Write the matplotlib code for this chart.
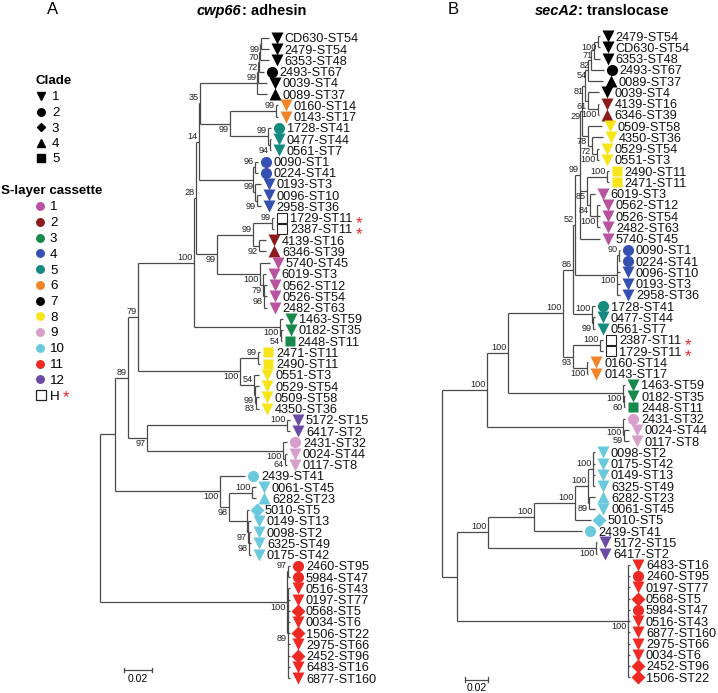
import matplotlib
matplotlib.use('Agg')
import matplotlib.pyplot as plt
from matplotlib.transforms import offset_copy

plt.rcParams['font.family'] = ['Liberation Sans', 'DejaVu Sans']

# ------------------------------------------------------------------ data
CLADE = {
    'CD630-ST54': 1, '2479-ST54': 1, '6353-ST48': 1, '2493-ST67': 2, '0039-ST4': 1, '0089-ST37': 4,
    '0160-ST14': 1, '0143-ST17': 1, '1728-ST41': 2, '0477-ST44': 1, '0561-ST7': 1,
    '0090-ST1': 2, '0224-ST41': 2, '0193-ST3': 1, '0096-ST10': 1, '2958-ST36': 1,
    '1729-ST11': 5, '2387-ST11': 5, '4139-ST16': 1, '6346-ST39': 4,
    '5740-ST45': 1, '6019-ST3': 1, '0562-ST12': 1, '0526-ST54': 1, '2482-ST63': 1,
    '1463-ST59': 1, '0182-ST35': 1, '2448-ST11': 5,
    '2471-ST11': 5, '2490-ST11': 5, '0551-ST3': 1, '0529-ST54': 1, '0509-ST58': 1, '4350-ST36': 1,
    '5172-ST15': 1, '6417-ST2': 1, '2431-ST32': 2, '0024-ST44': 1, '0117-ST8': 1,
    '2439-ST41': 2, '0061-ST45': 1, '6282-ST23': 4, '5010-ST5': 3, '0149-ST13': 1,
    '0098-ST2': 1, '6325-ST49': 1, '0175-ST42': 1,
    '2460-ST95': 2, '5984-ST47': 2, '0516-ST43': 1, '0197-ST77': 1, '0568-ST5': 3,
    '0034-ST6': 1, '1506-ST22': 3, '2975-ST66': 1, '2452-ST96': 3, '6483-ST16': 1,
    '6877-ST160': 1,
}

CASSETTE_GROUPS = {
    '7': ['CD630-ST54', '2479-ST54', '6353-ST48', '2493-ST67', '0039-ST4', '0089-ST37'],
    '6': ['0160-ST14', '0143-ST17'],
    '5': ['1728-ST41', '0477-ST44', '0561-ST7'],
    '4': ['0090-ST1', '0224-ST41', '0193-ST3', '0096-ST10', '2958-ST36'],
    'H': ['1729-ST11', '2387-ST11'],
    '2': ['4139-ST16', '6346-ST39'],
    '1': ['5740-ST45', '6019-ST3', '0562-ST12', '0526-ST54', '2482-ST63'],
    '3': ['1463-ST59', '0182-ST35', '2448-ST11'],
    '8': ['2471-ST11', '2490-ST11', '0551-ST3', '0529-ST54', '0509-ST58', '4350-ST36'],
    '12': ['5172-ST15', '6417-ST2'],
    '9': ['2431-ST32', '0024-ST44', '0117-ST8'],
    '10': ['2439-ST41', '0061-ST45', '6282-ST23', '5010-ST5', '0149-ST13', '0098-ST2',
           '6325-ST49', '0175-ST42'],
    '11': ['2460-ST95', '5984-ST47', '0516-ST43', '0197-ST77', '0568-ST5', '0034-ST6',
           '1506-ST22', '2975-ST66', '2452-ST96', '6483-ST16', '6877-ST160'],
}

CASSETTE_COLORS = {
    '1': '#b9529f', '2': '#8c1c1c', '3': '#17894a', '4': '#3451b2', '5': '#158a7f',
    '6': '#f0842a', '7': '#000000', '8': '#f7e51c', '9': '#d89fcb', '10': '#6bc9de',
    '11': '#ee2a24', '12': '#6a4ba6',
}
CLADE_LABELS = ['1', '2', '3', '4', '5']
CASSETTE_LABELS = ['1', '2', '3', '4', '5', '6', '7', '8', '9', '10', '11', '12']


def nest(label, *children):
    """Newick clade from (subtree, branch length) pairs; label 'NNb' = support drawn below."""
    return '(' + ','.join('%s:%.4f' % (sub, bl) for sub, bl in children) + ')' + label


# ---- tree A (cwp66), branch lengths in substitutions/site
A_BLACK = nest('', (nest('99b', (nest('72b', (nest('70b', (nest('99b', ('CD630-ST54', 0.0057),
                                                                    ('2479-ST54', 0.0057)), 0.0007),
                                                      ('6353-ST48', 0.0064)), 0.0007),
                                        ('2493-ST67', 0.0036)), 0.0007),
                           ('0039-ST4', 0.0064)), 0.0007),
               ('0089-ST37', 0.0071))
A_ORANGE = nest('99', ('0160-ST14', 0.0014), ('0143-ST17', 0.0014))
A_TEAL = nest('99', ('1728-ST41', 0.0021),
              (nest('94b', ('0477-ST44', 0.0007), ('0561-ST7', 0.0007)), 0.0014))
A_BLUE = nest('', (nest('96', ('0090-ST1', 0.0021), ('0224-ST41', 0.0021)), 0.0014),
              (nest('99', ('0193-ST3', 0.0043),
                    (nest('99b', ('0096-ST10', 0.0029), ('2958-ST36', 0.0029)), 0.0014)), 0.0014))
A_H = nest('99', (nest('99', ('1729-ST11', 0.0014), ('2387-ST11', 0.0014)), 0.0136),
           (nest('92b', ('4139-ST16', 0.0050), ('6346-ST39', 0.0050)), 0.0043))
A_PINK = nest('100b', ('5740-ST45', 0.0071),
              (nest('79b', ('6019-ST3', 0.0021),
                    (nest('98b', ('0562-ST12', 0.0021), ('0526-ST54', 0.0021), ('2482-ST63', 0.0021)),
                     0.0007)), 0.0021))
A_GREEN = nest('100b', ('1463-ST59', 0.0021),
               (nest('54b', ('0182-ST35', 0.0014), ('2448-ST11', 0.0005)), 0.0007))
A_YELLOW = nest('100b', (nest('99', ('2471-ST11', 0.0014), ('2490-ST11', 0.0014)), 0.0129),
                (nest('54', ('0551-ST3', 0.0036),
                      (nest('99b', ('0529-ST54', 0.0029),
                            (nest('83b', ('0509-ST58', 0.0021), ('4350-ST36', 0.0021)), 0.0007)),
                       0.0007)), 0.0100))
A_PURPLE = nest('100', ('5172-ST15', 0.0021), ('6417-ST2', 0.0021))
A_LPINK = nest('100b', ('2431-ST32', 0.0029),
               (nest('64b', ('0024-ST44', 0.0014), ('0117-ST8', 0.0014)), 0.0014))
A_CYAN = nest('100b', ('2439-ST41', 0.0179),
              (nest('98b', (nest('100', ('0061-ST45', 0.0029), ('6282-ST23', 0.0029)), 0.0164),
                    (nest('', ('5010-ST5', 0.0014),
                          (nest('97b', ('0149-ST13', 0.0021),
                                (nest('98b', ('0098-ST2', 0.0014), ('6325-ST49', 0.0014),
                                      ('0175-ST42', 0.0014)), 0.0007)), 0.0007)), 0.0129)), 0.0064))
A_RED = nest('100b', (nest('97', ('2460-ST95', 0.0014), ('5984-ST47', 0.0014)), 0.0007),
             (nest('89b', ('0516-ST43', 0.0014), ('0197-ST77', 0.0014), ('0568-ST5', 0.0014),
                   ('0034-ST6', 0.0014), ('1506-ST22', 0.0014), ('2975-ST66', 0.0014),
                   ('2452-ST96', 0.0014), ('6483-ST16', 0.0014), ('6877-ST160', 0.0014)), 0.0007))

A_N200 = nest('35', (A_BLACK, 0.0407), (nest('99b', (A_ORANGE, 0.0329), (A_TEAL, 0.0271)), 0.0214))
A_N199 = nest('14', (A_N200, 0.0007), (A_BLUE, 0.0386))
A_N217 = nest('99b', (A_H, 0.0257), (A_PINK, 0.0307))
A_N196 = nest('28', (A_N199, 0.0021), (A_N217, 0.0150))
A_N194 = nest('100', (A_N196, 0.0014), (A_GREEN, 0.0614))
A_N138 = nest('79', (A_N194, 0.0400), (A_YELLOW, 0.0729))
A_N147 = nest('97b', (A_PURPLE, 0.1000), (A_LPINK, 0.0971))
A_N128 = nest('89', (A_N138, 0.0071), (A_N147, 0.0136))
A_N115 = nest('', (A_N128, 0.0093), (A_CYAN, 0.0750))
TREE_A = nest('', (A_N115, 0.0107), (A_RED, 0.1336)) + ';'

# ---- tree B (secA2)
B_BLACK = nest('81b', (nest('54b', (nest('82b', (nest('71b', (nest('100b', ('2479-ST54', 0.0017),
                                                                      ('CD630-ST54', 0.0017)), 0.0035),
                                                        ('6353-ST48', 0.0052)), 0.0026),
                                          ('2493-ST67', 0.0113)), 0.0026),
                             ('0089-ST37', 0.0130)), 0.0026),
               (nest('61b', ('0039-ST4', 0.0096),
                     (nest('100b', ('4139-ST16', 0.0009), ('6346-ST39', 0.0009)), 0.0087)), 0.0026))
B_YELLOW = nest('78b', ('0509-ST58', 0.0122),
                (nest('72b', ('4350-ST36', 0.0096),
                      (nest('100b', ('0529-ST54', 0.0017), ('0551-ST3', 0.0017)), 0.0043)), 0.0035))
B_SQUARE = nest('100', ('2490-ST11', 0.0017), ('2471-ST11', 0.0017))
B_PINK = nest('84b', ('6019-ST3', 0.0043),
              (nest('100b', ('0562-ST12', 0.0026), ('0526-ST54', 0.0026), ('2482-ST63', 0.0026)), 0.0061))
B_BLUE = nest('100b', (nest('90', ('0090-ST1', 0.0009), ('0224-ST41', 0.0009)), 0.0017),
              ('0096-ST10', 0.0026), ('0193-ST3', 0.0026), ('2958-ST36', 0.0026))
B_TEAL = nest('100', ('1728-ST41', 0.0026),
              (nest('99b', ('0477-ST44', 0.0017), ('0561-ST7', 0.0017)), 0.0009))
B_H = nest('100', ('2387-ST11', 0.0026), ('1729-ST11', 0.0026))
B_ORANGE = nest('100b', ('0160-ST14', 0.0009), ('0143-ST17', 0.0009))
B_GREEN = nest('100b', ('1463-ST59', 0.0017),
               (nest('60b', ('0182-ST35', 0.0009), ('2448-ST11', 0.0009)), 0.0009))
B_LPINK = nest('100b', ('2431-ST32', 0.0017),
               (nest('59b', ('0024-ST44', 0.0043), ('0117-ST8', 0.0043)), 0.0009))
B_CYAN = nest('100', (nest('100', (nest('100', (nest('100', ('0098-ST2', 0.0017), ('0175-ST42', 0.0017),
                                                      ('0149-ST13', 0.0017), ('6325-ST49', 0.0017)), 0.0043),
                                         (nest('89b', ('6282-ST23', 0.0052), ('0061-ST45', 0.0052)), 0.0009)),
                                    0.0113),
                               ('5010-ST5', 0.0139)), 0.0357),
              ('2439-ST41', 0.0417))
B_PURPLE = nest('100b', ('5172-ST15', 0.0009), ('6417-ST2', 0.0009))
B_RED = nest('100b', ('6483-ST16', 0.0017), ('2460-ST95', 0.0017), ('0197-ST77', 0.0017),
             ('0568-ST5', 0.0017), ('5984-ST47', 0.0017), ('0516-ST43', 0.0017), ('6877-ST160', 0.0017),
             ('2975-ST66', 0.0017), ('0034-ST6', 0.0017), ('2452-ST96', 0.0017), ('1506-ST22', 0.0017))

B_N29 = nest('29b', (B_BLACK, 0.0026), (B_YELLOW, 0.0052))
B_N85 = nest('85b', (B_SQUARE, 0.0174), (B_PINK, 0.0026))
B_N99 = nest('99', (B_N29, 0.0017), (B_N85, 0.0061), ('5740-ST45', 0.0174))
B_N52 = nest('52', (B_N99, 0.0043), (B_BLUE, 0.0365))
B_N86 = nest('86', (B_N52, 0.0017), (B_TEAL, 0.0165))
B_N93 = nest('93b', (B_H, 0.0235), (B_ORANGE, 0.0122))
B_N563 = nest('100', (B_N86, 0.0087), (B_N93, 0.0087))
B_N508 = nest('100', (B_N563, 0.0478), (B_GREEN, 0.1000))
B_NU = nest('100', (B_N508, 0.0183), (B_LPINK, 0.1183))
B_N488 = nest('100', (B_CYAN, 0.0400), (B_PURPLE, 0.0939))
B_NL = nest('', (B_N488, 0.0270), (B_RED, 0.1487))
TREE_B = nest('', (B_NU, 0.0391), (B_NL, 0.0130)) + ';'

SCALE_BAR = 0.02

# ------------------------------------------------------------------ helpers
CASSETTE = {s: k for k, v in CASSETTE_GROUPS.items() for s in v}
MARKERS = {1: 'v', 2: 'o', 3: 'D', 4: '^', 5: 's'}
MSIZE = {1: 8.6, 2: 8.0, 3: 7.0, 4: 8.6, 5: 7.6}
LINE_COLOR = '#4a4a4a'
LW = 0.9
LEAF_FS = 9.2


def parse_newick(text):
    s = ''.join(text.split()).rstrip(';')
    pos = 0

    def node():
        nonlocal pos
        children = []
        if s[pos] == '(':
            pos += 1
            while True:
                children.append(node())
                if s[pos] == ',':
                    pos += 1
                    continue
                pos += 1
                break
        start = pos
        while pos < len(s) and s[pos] not in ':,()':
            pos += 1
        name = s[start:pos]
        length = 0.0
        if pos < len(s) and s[pos] == ':':
            pos += 1
            start = pos
            while pos < len(s) and s[pos] not in ',()':
                pos += 1
            length = float(s[start:pos])
        return {'name': name, 'len': length, 'children': children}

    return node()


def layout(root):
    leaves = []

    def rec(n, x0):
        n['x'] = x0 + n['len']
        for c in n['children']:
            rec(c, n['x'])
        if not n['children']:
            n['y'] = float(len(leaves))
            leaves.append(n)
        else:
            n['y'] = 0.5 * (n['children'][0]['y'] + n['children'][-1]['y'])

    rec(root, 0.0)
    return leaves


def walk(n):
    yield n
    for c in n['children']:
        yield from walk(c)


def draw_tree(fig, ax, root, ast_dx):
    leaves = layout(root)
    for n in walk(root):
        ch = n['children']
        if not ch:
            continue
        ax.plot([n['x'], n['x']], [ch[0]['y'], ch[-1]['y']], color=LINE_COLOR, lw=LW,
                solid_capstyle='butt')
        for c in ch:
            ax.plot([n['x'], c['x']], [c['y'], c['y']], color=LINE_COLOR, lw=LW,
                    solid_capstyle='butt')
        if n['name']:
            below = n['name'].endswith('b')
            val = n['name'].rstrip('b')
            tr = offset_copy(ax.transData, fig=fig, x=-1.0, y=(-1.0 if below else 1.0), units='dots')
            ax.text(n['x'], n['y'], val, transform=tr, ha='right',
                    va='top' if below else 'bottom', fontsize=6.6, color='#222222')
    mk_tr = offset_copy(ax.transData, fig=fig, x=8, y=0, units='dots')
    tx_tr = offset_copy(ax.transData, fig=fig, x=16, y=0, units='dots')
    for lf in leaves:
        name = lf['name']
        cl = CLADE[name]
        cs = CASSETTE[name]
        if cs == 'H':
            ax.plot(lf['x'], lf['y'], marker='s', ms=7.0, mfc='white', mec='#222222', mew=0.8,
                    transform=mk_tr, ls='none')
        else:
            ax.plot(lf['x'], lf['y'], marker=MARKERS[cl], ms=MSIZE[cl], mfc=CASSETTE_COLORS[cs],
                    mec='none', transform=mk_tr, ls='none')
        t = ax.text(lf['x'], lf['y'], name, transform=tx_tr, ha='left', va='center_baseline',
                    fontsize=LEAF_FS, color='#111111')
        if cs == 'H':
            ax.annotate('*', xy=(1, 0.5), xycoords=t, xytext=(ast_dx, -3), textcoords='offset points',
                        ha='left', va='center', fontsize=12, color='#e8262b')
    return leaves


# ------------------------------------------------------------------ figure
W, H = 718, 693
fig = plt.figure(figsize=(W / 100, H / 100), dpi=100)

ov = fig.add_axes([0, 0, 1, 1])
ov.set_xlim(0, W)
ov.set_ylim(H, 0)
ov.axis('off')


def tree_axes(root_px, px_per_unit, y0_px, dy_px):
    ax = fig.add_axes([0, 0, 1, 1])
    ax.patch.set_alpha(0)
    ax.set_xlim(-root_px / px_per_unit, (W - root_px) / px_per_unit)
    ax.set_ylim((H - y0_px) / dy_px, -y0_px / dy_px)
    ax.axis('off')
    return ax


axA = tree_axes(100, 1400, 38, 11.23)
axB = tree_axes(442, 1150, 36, 11.25)

draw_tree(fig, axA, parse_newick(TREE_A), 2.5)
draw_tree(fig, axB, parse_newick(TREE_B), 2.5)

# scale bars
for ax, x0, yrow in [(axA, 0.0171, 56.3), (axB, 0.0200, 57.2)]:
    tk = 0.18
    ax.plot([x0, x0 + SCALE_BAR], [yrow, yrow], color=LINE_COLOR, lw=LW)
    ax.plot([x0, x0], [yrow - tk, yrow + tk], color=LINE_COLOR, lw=LW)
    ax.plot([x0 + SCALE_BAR, x0 + SCALE_BAR], [yrow - tk, yrow + tk], color=LINE_COLOR, lw=LW)
    ax.text(x0 + SCALE_BAR / 2, yrow + 0.35, '%.2f' % SCALE_BAR, ha='center', va='top', fontsize=7.5)

# titles and panel letters
ov.text(47, 9, 'A', fontsize=12, va='center', ha='left')
ov.text(448, 9, 'B', fontsize=12, va='center', ha='left')
t1 = ov.text(197, 15, 'cwp66', fontsize=10.5, style='italic', weight='bold', va='baseline')
ov.annotate(': adhesin', xy=(1, 0), xycoords=t1, va='bottom', ha='left', fontsize=10.5, weight='bold')
t2 = ov.text(535, 15, 'secA2', fontsize=10.5, style='italic', weight='bold', va='baseline')
ov.annotate(': translocase', xy=(1, 0), xycoords=t2, va='bottom', ha='left', fontsize=10.5, weight='bold')

# legend: clade
ov.text(35, 81, 'Clade', fontsize=9.6, weight='bold', va='center', ha='left')
for i, lab in enumerate(CLADE_LABELS):
    y = 96 + i * 15.5
    ov.plot(41, y, marker=MARKERS[int(lab)], ms=5.4 if lab != '3' else 4.5, color='black', ls='none')
    ov.text(52, y, lab, fontsize=9.6, va='center_baseline', ha='left')

# legend: S-layer cassette
ov.text(1, 191, 'S-layer cassette', fontsize=9.6, weight='bold', va='center', ha='left')
for i, lab in enumerate(CASSETTE_LABELS):
    y = 206 + i * 15.75
    ov.plot(40, y, marker='o', ms=5.4, color=CASSETTE_COLORS[lab], ls='none')
    ov.text(50, y, lab, fontsize=9.6, va='center_baseline', ha='left')
yH = 206 + 12 * 15.75
ov.plot(41, yH, marker='s', ms=7.2, mfc='white', mec='#222222', mew=0.9, ls='none')
ov.text(50, yH, 'H', fontsize=9.6, va='center_baseline', ha='left')
ov.text(63, yH + 3, '*', fontsize=12, va='center', ha='left', color='#e8262b')

fig.savefig('out.png', dpi=100)
